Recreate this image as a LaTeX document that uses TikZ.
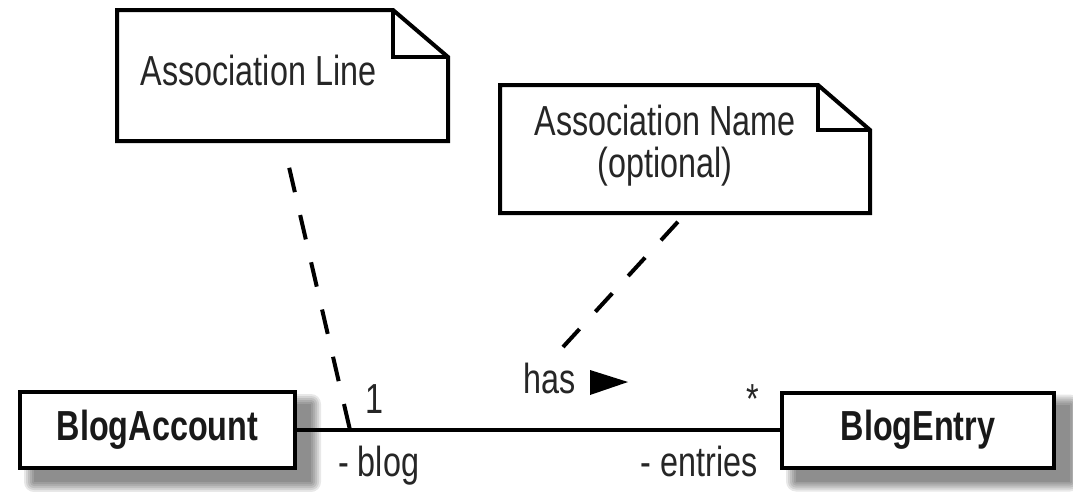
\documentclass[tikz,border=0pt]{standalone}
\usepackage{fontspec}
\newfontfamily\cf[FakeStretch=0.77]{Liberation Sans}
\usetikzlibrary{backgrounds}
\begin{document}
\begin{tikzpicture}[x=1pt,y=-1pt,
  txt/.style={font=\cf\fontsize{42}{44}\selectfont, text=black!85, inner sep=0pt},
  cls/.style={draw, line width=4pt, fill=white, inner sep=0pt,
    font=\cf\bfseries\fontsize{42}{44}\selectfont, text=black!90},
  notebox/.style={draw, line width=4pt, fill=white, line join=miter},
  anchorline/.style={line width=4pt, dash pattern=on 25pt off 23.5pt},
  assoc/.style={line width=3.6pt}]
\useasboundingbox (0,0) rectangle (1073,491);

% notes
\draw[notebox] (117,10) -- (393,10) -- (448,57) -- (448,141) -- (117,141) -- cycle;
\draw[notebox, fill=none] (393,10) -- (393,57) -- (448,57);
\node[txt, anchor=base] (n1t) at (258.5,85) {Association Line};

\draw[notebox] (500,85) -- (818,85) -- (870,130) -- (870,213) -- (500,213) -- cycle;
\draw[notebox, fill=none] (818,85) -- (818,130) -- (870,130);
\node[txt, anchor=base] (n2t) at (665,135) {Association Name};
\node[txt, anchor=base] (n2u) at (665,177) {(optional)};

% classes
\node[cls, minimum width=275pt, minimum height=76pt] (ba) at (157.5,430) {BlogAccount};
\node[cls, minimum width=272pt, minimum height=75pt] (be) at (918,430) {BlogEntry};

\begin{pgfonlayer}{background}
  \fill[white] (0,0) rectangle (1073,491);
  \foreach \n in {ba,be}{
    \foreach \d in {0,2,4,6,8,10}{
      \fill[black, opacity=0.09, rounded corners=\d pt]
        ([shift={(16-\d,14-\d)}]\n.north west) rectangle ([shift={(14+\d,12+\d)}]\n.south east);
    }
  }
\end{pgfonlayer}

% association
\draw[assoc] (ba) -- (be);

% coordinates for anchor lines
\coordinate (n1b) at (283,141);
\coordinate (a1) at (350,430);
\coordinate (n2b) at (686,213);
\coordinate (a2) at (563,347);
\draw[anchorline, dash phase=25pt, shorten <=4pt] (n1b) -- (a1);
\draw[anchorline, shorten <=12pt] (n2b) -- (a2);

% labels
\node[txt, anchor=base] (m1) at (374,413) {1};
\node[txt, anchor=base] (m2) at (753,413) {*};
\node[txt, anchor=base west] (r1) at (338,476) {- blog};
\node[txt, anchor=base east] (r2) at (758,476) {- entries};
\node[txt, anchor=base west] (hs) at (523,393) {has};
\fill[black] (590,370) -- (628,382) -- (590,395) -- cycle;
\end{tikzpicture}
\end{document}
